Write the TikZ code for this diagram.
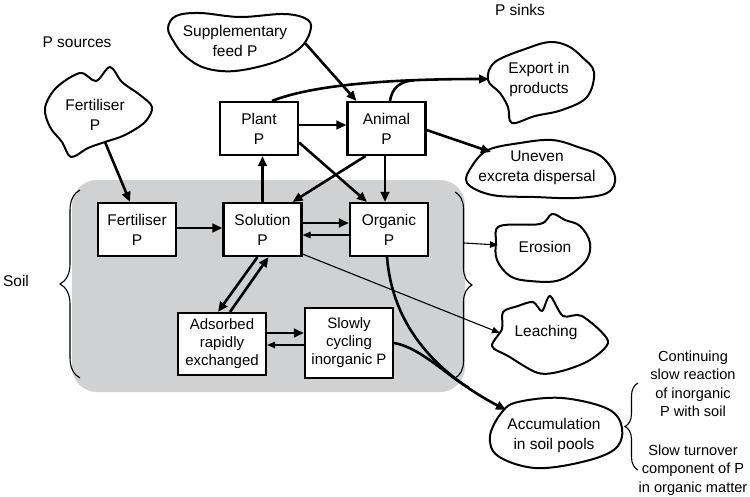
\documentclass[tikz,border=0pt]{standalone}
\usepackage{fontspec}
\setmainfont{Liberation Sans}
\usetikzlibrary{arrows.meta,decorations.pathreplacing,calc}
\definecolor{soilgray}{RGB}{208,209,211}
\newcommand\mysz{\fontsize{15.5}{20}\selectfont}
\newcommand\mysmallsz{\fontsize{15}{18}\selectfont}
\newcommand\mynotesz{\fontsize{14.6}{18.5}\selectfont}
\begin{document}
\begin{tikzpicture}[x=1pt,y=-1pt,font=\mysz,
  box/.style={draw,line width=2.1pt,fill=white,inner sep=0pt,align=center,minimum width=78pt,minimum height=53pt},
  boxthree/.style={draw,line width=2.1pt,fill=white,inner sep=0pt,align=center,font=\mysmallsz},
  thk/.style={line width=2.6pt,-{Triangle[length=10pt,width=8.5pt]}},
  thkline/.style={line width=2.6pt},
  thn/.style={line width=1.1pt,-{Triangle[length=8pt,width=6.5pt]}},
  cloudline/.style={line width=2pt,fill=white},
  lab/.style={align=center,inner sep=0pt},
  bracestyle/.style={line width=1.1pt,decorate}]
\useasboundingbox (0,0) rectangle (750,496);

% soil area
\node[fill=soilgray,rounded corners=25pt,minimum width=393pt,minimum height=212pt,inner sep=0pt] (soil) at (268.5,286) {};

% clouds
\draw[cloudline] plot[smooth cycle,tension=0.6] coordinates {(168,28) (176,16) (200,13) (240,17) (285,14) (308,20) (310,32) (300,48) (275,62) (235,71) (205,68) (185,56) (174,42)};
\draw[cloudline] plot[smooth cycle,tension=0.55] coordinates {(45,108) (56,88) (80,73) (96,81) (110,67) (122,82) (140,95) (152,107) (145,122) (125,135) (105,142) (88,148) (71,157) (62,142) (50,127)};
\draw[cloudline] plot[smooth cycle,tension=0.6] coordinates {(550,42) (528,48) (495,62) (488,80) (500,93) (508,107) (512,123) (535,116) (562,110) (587,97) (594,72) (582,57) (568,46)};
\draw[cloudline] plot[smooth cycle,tension=0.6] coordinates {(488,150) (520,143) (552,140) (578,147) (602,157) (615,177) (607,193) (575,198) (535,197) (492,195) (467,183) (472,166)};
\draw[cloudline] plot[smooth cycle,tension=0.6] coordinates {(552,214) (540,224) (500,226) (496,242) (497,260) (510,276) (530,281) (560,280) (585,262) (590,243) (580,226) (565,220)};
\draw[cloudline] plot[smooth cycle,tension=0.5] coordinates {(503,312) (518,306) (533,302) (542,311) (550,296) (563,316) (582,316) (608,341) (590,360) (562,371) (538,373) (508,356) (492,346) (502,329)};
\draw[cloudline] plot[smooth cycle,tension=0.6] coordinates {(502,412) (518,402) (562,398) (608,409) (622,428) (615,449) (582,462) (535,468) (498,456) (490,436)};

% cloud texts
\node[lab] (feed) at (235,41) {Supplementary\\feed P};
\node[lab] (fertsrc) at (95,115) {Fertiliser\\P};
\node[lab] (export) at (539,79) {Export in\\products};
\node[lab] (uneven) at (537,168) {Uneven\\excreta dispersal};
\node[lab] (erosion) at (545,247) {Erosion};
\node[lab] (leach) at (546,332) {Leaching};
\node[lab] (accum) at (554,435) {Accumulation\\in soil pools};

% plain labels
\node[lab] (psrc) at (77,42) {P sources};
\node[lab] (psink) at (520,10) {P sinks};
\node[lab] (soiltxt) at (16,281) {Soil};
\node[lab,font=\mynotesz] (note1) at (693,384) {Continuing\\slow reaction\\of inorganic\\P with soil};
\node[lab,font=\mynotesz] (note2) at (693,470) {Slow turnover\\component of P\\in organic matter};

% braces
\draw[bracestyle,decoration={brace,amplitude=20pt}] (80,378) -- (80,190);
\draw[bracestyle,decoration={brace,amplitude=17pt}] (455,192) -- (455,378);
\draw[bracestyle,decoration={brace,amplitude=13pt}] (638,470) -- (638,383);

% boxes
\node[box] (plant) at (259,128.5) {Plant\\P};
\node[box] (animal) at (386.5,128.5) {Animal\\P};
\node[box] (fbox) at (137,229.5) {Fertiliser\\P};
\node[box] (sol) at (262.5,229.5) {Solution\\P};
\node[box] (org) at (389,229.5) {Organic\\P};
\node[boxthree,minimum width=88pt,minimum height=62pt] (ads) at (222,344) {Adsorbed\\rapidly\\exchanged};
\node[boxthree,minimum width=88pt,minimum height=70pt] (slow) at (349,343) {Slowly\\cycling\\inorganic P};

% connector end points at clouds
\coordinate (feedout) at (305,43);
\coordinate (fertout) at (105,142);
\coordinate (expin) at (489,79);
\coordinate (unevenin) at (491,152);
\coordinate (erosin) at (498,245);
\coordinate (leachin) at (500,333);
\coordinate (accin) at (506,410);
\coordinate (braceout) at (464,243);

% connectors
\draw[thk] (fertout) -- ([xshift=-7pt]fbox.north);
\draw[thk] (feedout) -- ([xshift=10pt]animal.north west);
\draw[thk] ([xshift=13pt]plant.north) .. controls (310,86) and (380,79) .. (expin) coordinate[pos=0.75] (m1);
\draw[thkline] ([xshift=3.5pt]animal.north) .. controls (392,88) and (400,81) .. (m1);
\draw[thk] ([yshift=3.5pt]plant.east) -- ([yshift=3.5pt]animal.west);
\draw[thk] ([yshift=-14pt]plant.east) -- ([xshift=-22pt]org.north);
\draw[thk] ([xshift=-21pt]animal.south) -- ([xshift=30pt]sol.north);
\draw[thk] ([xshift=-1.5pt]animal.south) -- ([xshift=-1.5pt]animal.south |- org.north);
\draw[thk] (sol.north) -- (sol.north |- plant.south);
\draw[thk] ([yshift=1.5pt]fbox.east) -- ([yshift=1.5pt]fbox.east -| sol.west);
\draw[thk] ([yshift=6.5pt]sol.east) -- ([yshift=6.5pt]sol.east -| org.west);
\draw[thn] ([yshift=-5.5pt]org.west) -- ([yshift=-5.5pt]org.west -| sol.east);
\draw[thk] ([xshift=-5pt]sol.south) -- ([xshift=-4pt]ads.north);
\draw[thk] ([xshift=8pt]ads.north) -- ([xshift=6pt]sol.south);
\draw[thk] ([yshift=11pt]ads.east) -- ([yshift=11pt]ads.east -| slow.west);
\draw[thn] ([yshift=-2pt]slow.west) -- ([yshift=-2pt]slow.west -| ads.east);
\draw[thk] ([yshift=-1.5pt]animal.east) -- (unevenin);
\draw[thn] (braceout) -- (erosin);
\draw[thn] ([yshift=3pt]sol.south east) -- (leachin);
\draw[thk] ([xshift=-2pt]org.south) .. controls (393,330) and (440,375) .. (accin) coordinate[pos=0.8] (m2);
\draw[thkline] (slow.east) .. controls (420,347) and (450,378) .. (m2);
\end{tikzpicture}
\end{document}
